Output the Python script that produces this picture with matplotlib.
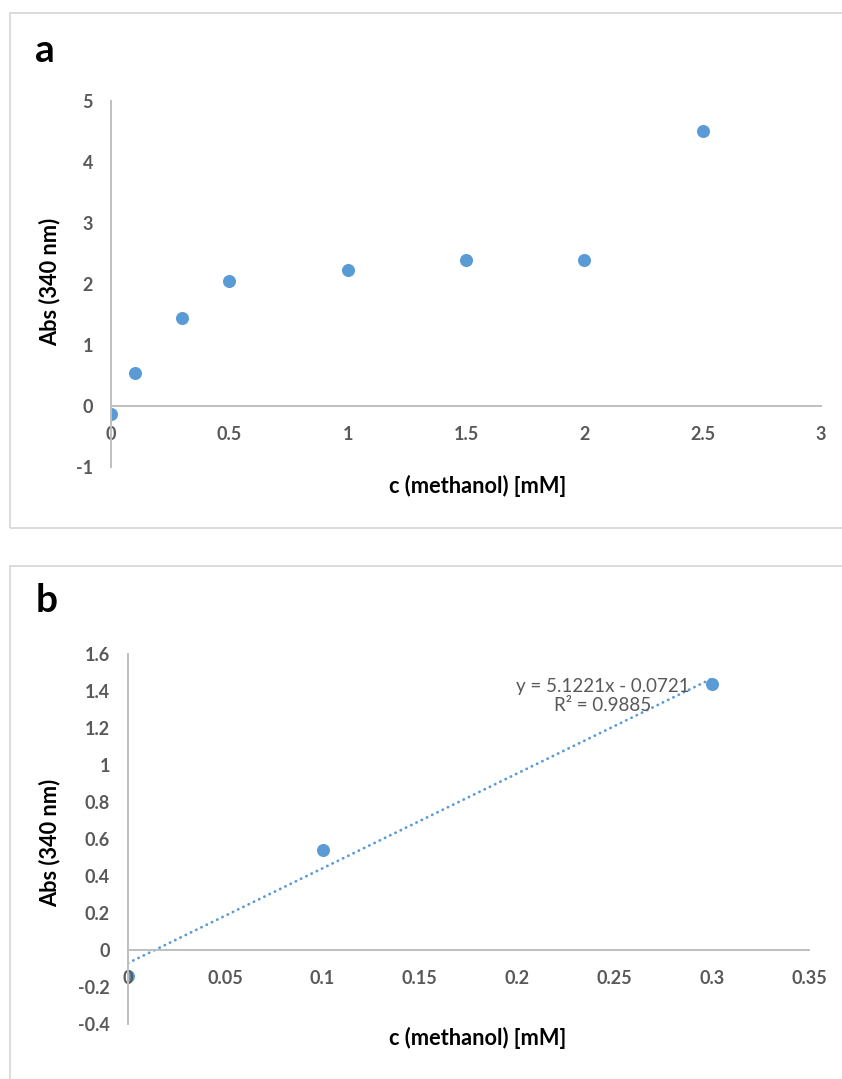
import matplotlib
matplotlib.use("Agg")
import matplotlib.pyplot as plt
from matplotlib.patches import Rectangle

plt.rcParams['font.family'] = ['Lato', 'DejaVu Sans']

# ---- data ----
conc_a = [0, 0.1, 0.3, 0.5, 1.0, 1.5, 2.0, 2.5]
abs_a = [-0.13, 0.54, 1.43, 2.04, 2.22, 2.39, 2.39, 4.50]

conc_b = [0, 0.1, 0.3]
abs_b = [-0.14, 0.54, 1.435]

fit_slope = 5.1221
fit_intercept = -0.0721
fit_r2 = 0.9885

xticks_a = [0, 0.5, 1, 1.5, 2, 2.5, 3]
xticklabels_a = ['0', '0.5', '1', '1.5', '2', '2.5', '3']
yticks_a = [-1, 0, 1, 2, 3, 4, 5]
yticklabels_a = ['-1', '0', '1', '2', '3', '4', '5']

xticks_b = [0, 0.05, 0.1, 0.15, 0.2, 0.25, 0.3, 0.35]
xticklabels_b = ['0', '0.05', '0.1', '0.15', '0.2', '0.25', '0.3', '0.35']
yticks_b = [-0.4, -0.2, 0, 0.2, 0.4, 0.6, 0.8, 1, 1.2, 1.4, 1.6]
yticklabels_b = ['-0.4', '-0.2', '0', '0.2', '0.4', '0.6', '0.8', '1', '1.2', '1.4', '1.6']

xlabel = 'c (methanol) [mM]'
ylabel = 'Abs (340 nm)'

# ---- style ----
W, H = 842, 1079
BLUE = '#5B9BD5'
AXC = '#BFBFBF'
TICKC = '#595959'
BORDER = '#D9D9D9'

fig = plt.figure(figsize=(W / 100, H / 100), dpi=100)


def fx(px):
    return px / W


def fy(py):
    return 1 - py / H


# panel borders
fig.patches.append(Rectangle((fx(10), fy(528)), fx(845) - fx(10), fy(12.5) - fy(528),
                             transform=fig.transFigure, fill=False, edgecolor=BORDER, lw=1.3))
fig.patches.append(Rectangle((fx(10), fy(1090)), fx(845) - fx(10), fy(566) - fy(1090),
                             transform=fig.transFigure, fill=False, edgecolor=BORDER, lw=1.3))


def style_axes(ax, xlim, ylim, xt, xtl, yt, ytl):
    ax.set_xlim(*xlim)
    ax.set_ylim(*ylim)
    for s in ['top', 'right']:
        ax.spines[s].set_visible(False)
    ax.spines['bottom'].set_position(('data', 0))
    ax.spines['left'].set_position(('data', 0))
    for s in ['bottom', 'left']:
        ax.spines[s].set_color(AXC)
        ax.spines[s].set_linewidth(1.4)
    ax.set_xticks(xt)
    ax.set_xticklabels(xtl)
    ax.set_yticks(yt)
    ax.set_yticklabels(ytl)
    ax.tick_params(axis='x', length=0, labelsize=13, labelcolor=TICKC, pad=14.5)
    ax.tick_params(axis='y', length=0, labelsize=13, labelcolor=TICKC, pad=13)
    for lbl in ax.get_xticklabels() + ax.get_yticklabels():
        lbl.set_fontweight('bold')
    ax.patch.set_visible(False)


# ---- panel a ----
axa = fig.add_axes([fx(111), fy(466.6), fx(821) - fx(111), fy(100.6) - fy(466.6)])
axa.plot(conc_a, abs_a, 'o', color=BLUE, markersize=9.4, markeredgewidth=0, zorder=1)
style_axes(axa, (0, 3), (-1, 5), xticks_a, xticklabels_a, yticks_a, yticklabels_a)

fig.text(fx(35), fy(62), 'a', fontsize=28, fontweight='bold', ha='left', va='baseline')
fig.text(fx(478), fy(485.5), xlabel, fontsize=15.7, fontweight='bold', ha='center', va='center')
fig.text(fx(50), fy(282), ylabel, fontsize=15.7, fontweight='bold', ha='center', va='center', rotation=90)

# ---- panel b ----
axb = fig.add_axes([fx(128), fy(1023.8), fx(809) - fx(128), fy(653.6) - fy(1023.8)])
axb.plot(conc_b, abs_b, 'o', color=BLUE, markersize=9.4, markeredgewidth=0, zorder=1)
xfit = [conc_b[0], conc_b[-1]]
yfit = [fit_slope * v + fit_intercept for v in xfit]
axb.plot(xfit, yfit, linestyle=(0, (0.1, 2.0)), color=BLUE, lw=2.0,
         dash_capstyle='round', zorder=1.2)
style_axes(axb, (0, 0.35), (-0.4, 1.6), xticks_b, xticklabels_b, yticks_b, yticklabels_b)

eq_text = f'y = {fit_slope:.4f}x - {abs(fit_intercept):.4f}\nR² = {fit_r2:.4f}'
fig.text(fx(602.5), fy(696), eq_text, fontsize=13.5, color=TICKC, ha='center', va='center',
         linespacing=1.2)

fig.text(fx(36), fy(612.3), 'b', fontsize=28, fontweight='bold', ha='left', va='baseline')
fig.text(fx(478), fy(1037.6), xlabel, fontsize=15.7, fontweight='bold', ha='center', va='center')
fig.text(fx(50), fy(843), ylabel, fontsize=15.7, fontweight='bold', ha='center', va='center', rotation=90)

fig.savefig('out.png', dpi=100)
